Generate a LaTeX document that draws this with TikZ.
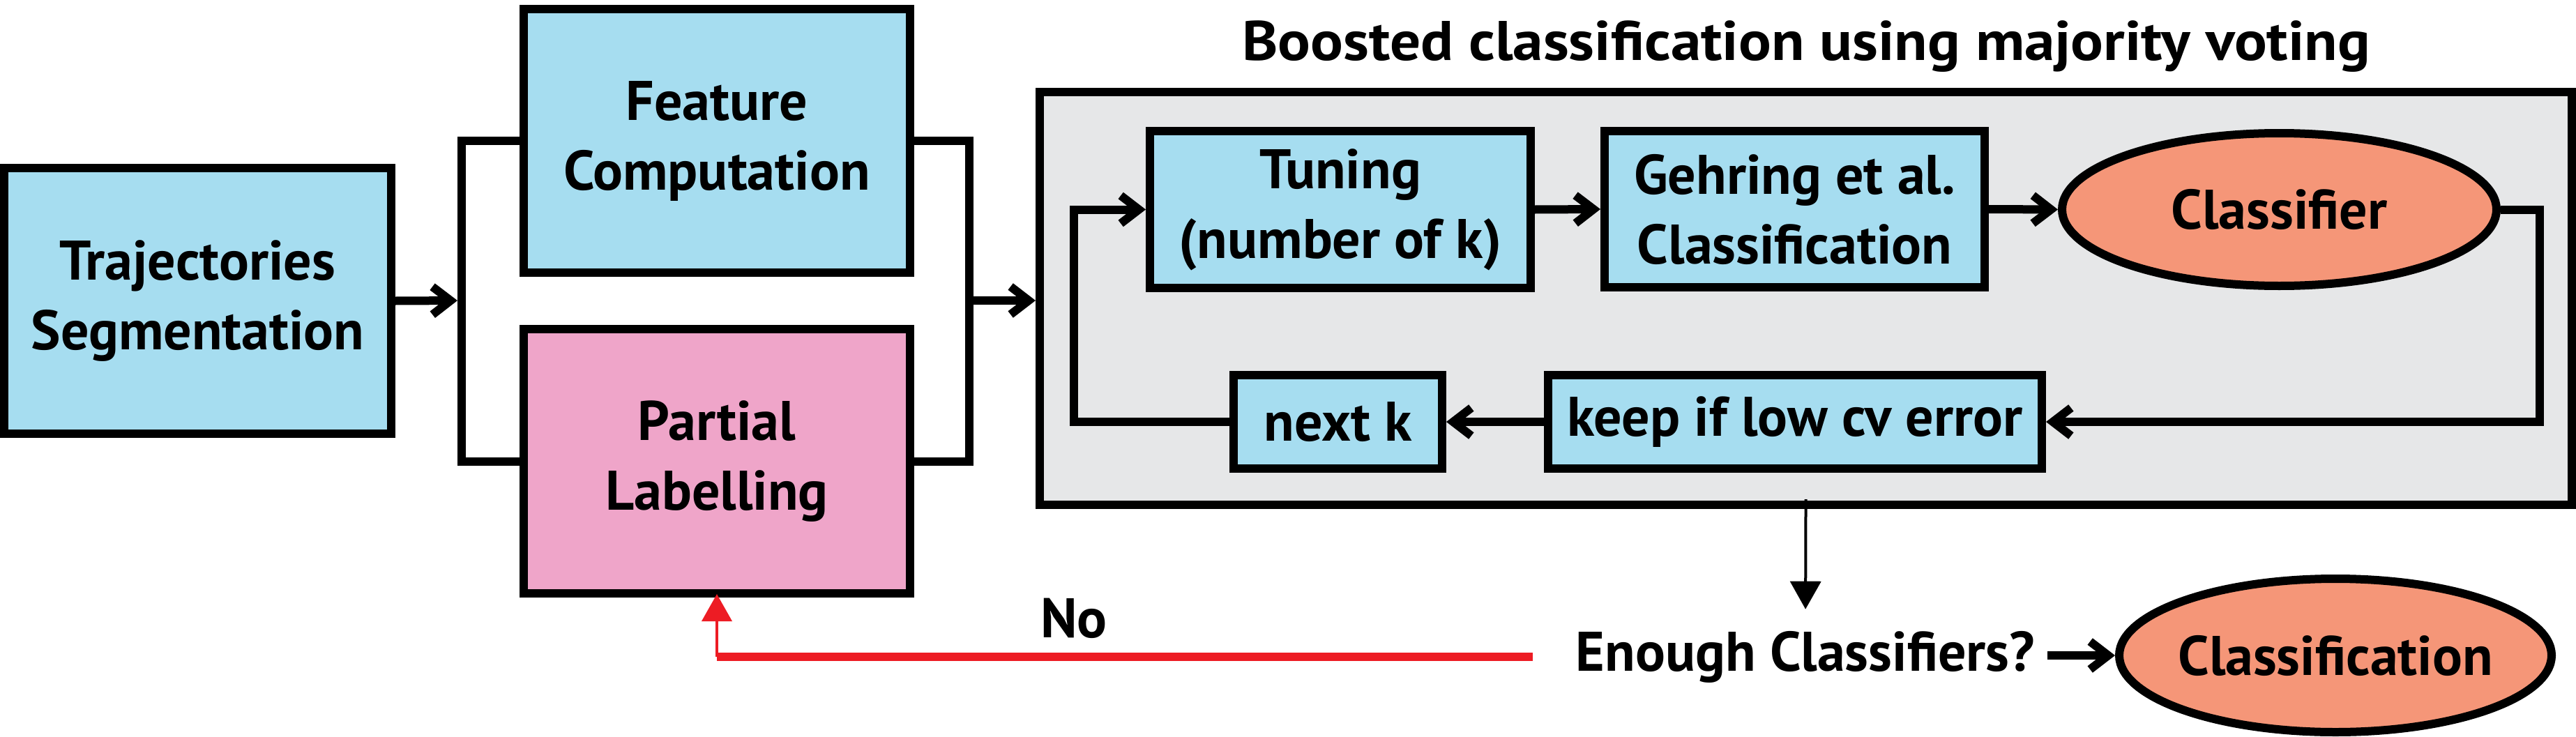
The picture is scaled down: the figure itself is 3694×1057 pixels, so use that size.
\documentclass[tikz,border=0pt]{standalone}
\usepackage{fontspec}
\setmainfont{PT Sans}
\newfontfamily\titlefont{PT Sans}[FakeStretch=1.09]
\usetikzlibrary{arrows.meta,shapes.geometric}
\definecolor{boxblue}{HTML}{A6DDF0}
\definecolor{boxpink}{HTML}{EFA5C9}
\definecolor{salmon}{HTML}{F59678}
\definecolor{panelgray}{HTML}{E6E7E8}
\definecolor{linkred}{HTML}{ED1C24}
\begin{document}
\begin{tikzpicture}[x=1pt,y=-1pt,line join=miter,
  every node/.style={font=\fontsize{80}{100}\selectfont\bfseries},
  box/.style={draw=black,line width=12pt,rectangle,inner sep=0pt,align=center},
  bluebox/.style={box,fill=boxblue},
  ell/.style={draw=black,line width=12pt,ellipse,inner sep=0pt,fill=salmon},
  conn/.style={line width=12pt},
  arr/.style={conn,-{Straight Barb[length=26pt,width=40pt]}},
  thinarr/.style={line width=4pt,-{Triangle[length=40pt,width=44pt]}},
]
\useasboundingbox (0,0) rectangle (3694,1057);

% left part
\node[bluebox,minimum width=555pt,minimum height=381pt] (traj) at (283.5,431.5) {Trajectories\\Segmentation};
\node[bluebox,minimum width=554pt,minimum height=378pt] (feat) at (1028,202) {Feature\\Computation};
\node[box,fill=boxpink,minimum width=554pt,minimum height=379pt] (part) at (1028,661.5) {Partial\\Labelling};

% panel
\node[box,fill=panelgray,minimum width=2197pt,minimum height=592pt] (panel) at (2589.5,428) {};
\node[anchor=base,font=\fontsize{80}{100}\titlefont\bfseries] (title) at (2590,86) {Boosted classification using majority voting};

\node[bluebox,minimum width=546pt,minimum height=225pt] (tuning) at (1922,300.5) {Tuning\\(number of k)};
\node[bluebox,minimum width=545pt,minimum height=224pt] (gehring) at (2573.5,300) {Gehring et al.\\Classification};
\node[ell,minimum width=623pt,minimum height=219pt] (clsr) at (3268.5,300.5) {\makebox[0pt][c]{Classifier}};
\node[bluebox,minimum width=708pt,minimum height=134pt] (keep) at (2574,605) {keep if low cv error};
\node[bluebox,minimum width=299pt,minimum height=134pt] (nextk) at (1918.5,605) {next k};

% bottom
\node[anchor=base,inner sep=0pt] (enough) at (2589,962) {Enough Classifiers?};
\node[ell,minimum width=620pt,minimum height=220pt] (clfn) at (3349,940) {\makebox[0pt][c]{Classification}};
\node[anchor=base,inner sep=0pt] (no) at (1540,914) {No};

% brackets and arrows
\coordinate (lb) at (662,431);
\coordinate (rb) at (1390,431);
\draw[conn] (feat.west) -| (lb) |- (part.west);
\draw[conn] (feat.east) -| (rb) |- (part.east);
\draw[arr,shorten >=6pt] (traj.east) -- (lb);
\draw[arr] (rb) -- (rb -| panel.west);

\draw[arr] (tuning.east) -- (gehring.west);
\draw[arr] (gehring.east) -- (clsr.west);
\draw[arr] (clsr.east) -- ++(56,0) |- (keep.east);
\draw[arr] (keep.west) -- (nextk.east);
\draw[arr] (nextk.west) -- ++(-223,0) |- (tuning.west);

\draw[thinarr,shorten <=-14pt,shorten >=31pt] (panel.south) -- (enough.north);
\draw[arr,shorten <=18pt] (clfn.west -| enough.east) -- (clfn.west);

\draw[line width=12pt,linkred,shorten <=62pt] (enough.west) -- (enough.west -| part.south);
\draw[line width=4pt,linkred,-{Triangle[length=39pt,width=43pt]},shorten >=-5pt] (enough.west -| part.south) -- (part.south);
\end{tikzpicture}
\end{document}
